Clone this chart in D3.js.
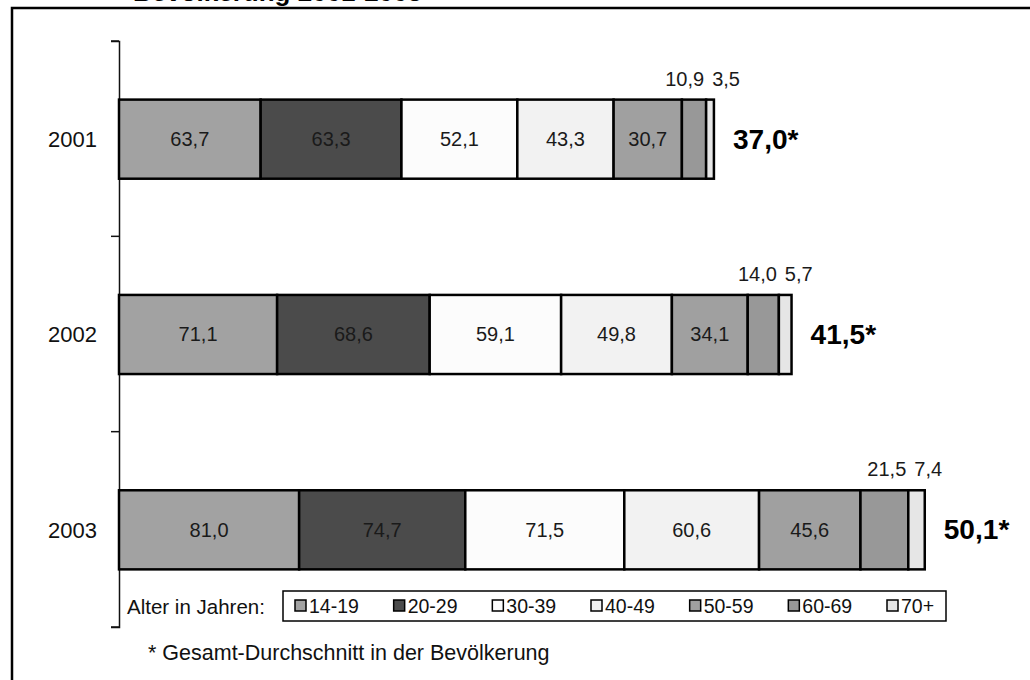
<!DOCTYPE html>
<html>
<head>
<meta charset="utf-8">
<script src="https://cdn.jsdelivr.net/npm/d3@7/dist/d3.min.js"></script>
<style>
  html, body { margin: 0; padding: 0; background: #fff; }
  svg { display: block; font-family: "Liberation Sans", Arial, sans-serif; }
</style>
</head>
<body>
<svg id="chart" width="1030" height="680"></svg>
<script>
// Survey shares (%) by age group, per year
const years = ["2001", "2002", "2003"];
const ageGroups = ["14-19", "20-29", "30-39", "40-49", "50-59", "60-69", "70+"];
const values2001 = [63.7, 63.3, 52.1, 43.3, 30.7, 10.9, 3.5];
const values2002 = [71.1, 68.6, 59.1, 49.8, 34.1, 14.0, 5.7];
const values2003 = [81.0, 74.7, 71.5, 60.6, 45.6, 21.5, 7.4];
const totals = [37.0, 41.5, 50.1];
const groupFills = ["#a2a2a2", "#4b4b4b", "#fcfcfc", "#f2f2f2", "#a0a0a0", "#989898", "#e6e6e6"];
const titleText = "Bevölkerung 2001-2003";
const legendTitle = "Alter in Jahren:";
const footnote = "* Gesamt-Durchschnitt in der Bevölkerung";

const seriesByYear = [values2001, values2002, values2003];
const rows = years.map((y, i) => {
  let acc = 0;
  const segs = seriesByYear[i].map((v, j) => {
    const s = { group: ageGroups[j], index: j, value: v, x0: acc, x1: acc + v };
    acc += v;
    return s;
  });
  return { year: y, total: totals[i], segs, sum: acc };
});

const de = d3.formatLocale({ decimal: ",", thousands: ".", grouping: [3], currency: ["", " €"] });
const fmt = de.format(".1f");

const svg = d3.select("#chart");

function label(g, x, y, text, opts = {}) {
  return g.append("text")
    .attr("transform", `translate(${x},${y}) scale(${opts.sx || 1},1)`)
    .attr("text-anchor", opts.anchor || "middle")
    .attr("font-size", opts.size || 20)
    .attr("font-weight", opts.weight || "normal")
    .attr("fill", opts.fill || "#111")
    .text(text);
}

// Frame around the chart area
svg.append("rect")
  .attr("x", 12).attr("y", 8)
  .attr("width", 1100).attr("height", 800)
  .attr("fill", "none").attr("stroke", "#000").attr("stroke-width", 2.5);

// Title line (sits partly above the visible area)
label(svg, 133, 1, titleText, { anchor: "start", size: 26, weight: "bold", fill: "#000" });

const x = d3.scaleLinear().domain([0, 400]).range([119, 119 + 400 * 2.224]);
const y = d3.scaleBand().domain(years).range([41, 627]).paddingInner(0).paddingOuter(0);
const step = y.step();
const barTop = d => y(d) + step * 0.3;
const barH = step * 0.405;

// Category axis
const yAxis = d3.axisLeft(y).tickSize(8).tickFormat("").tickSizeOuter(8);
const axisG = svg.append("g").attr("transform", "translate(119,0)").call(yAxis);
axisG.select(".domain").attr("stroke", "#111").attr("stroke-width", 1.5);
axisG.selectAll(".tick").remove();
// tick marks on band edges
const edges = years.map(d => y(d)).concat([y(years[years.length - 1]) + step]);
axisG.selectAll("line.edge").data(edges).join("line")
  .attr("class", "edge")
  .attr("x1", -8).attr("x2", 0)
  .attr("y1", d => d).attr("y2", d => d)
  .attr("stroke", "#111").attr("stroke-width", 1.5);

// Year labels
rows.forEach(r => {
  label(svg, 97, barTop(r.year) + barH / 2 + 8, r.year, { anchor: "end", size: 22 });
});

// Stacked bars
const rowG = svg.selectAll("g.row").data(rows).join("g").attr("class", "row");
rowG.selectAll("rect").data(r => r.segs.map(s => ({ ...s, year: r.year }))).join("rect")
  .attr("x", s => x(s.x0))
  .attr("y", s => barTop(s.year))
  .attr("width", s => x(s.x1) - x(s.x0))
  .attr("height", barH)
  .attr("fill", s => groupFills[s.index])
  .attr("stroke", "#000")
  .attr("stroke-width", 2.5);

rows.forEach(r => {
  const g = svg.append("g");
  const cy = barTop(r.year) + barH / 2;
  r.segs.forEach(s => {
    if (s.index < 5) {
      label(g, (x(s.x0) + x(s.x1)) / 2, cy + 7, fmt(s.value), { size: 20, fill: "#1a1a1a" });
    }
  });
  // Small segments are labelled above the bar
  const s6 = r.segs[5], s7 = r.segs[6];
  const top = barTop(r.year) - 14;
  label(g, x(s7.x0) - 2, top, fmt(s6.value), { anchor: "end", size: 20, fill: "#1a1a1a" });
  label(g, x(s7.x0) + 6, top, fmt(s7.value), { anchor: "start", size: 20, fill: "#1a1a1a" });
  // Overall population average
  label(g, x(r.sum) + 19, cy + 9.5, fmt(r.total) + "*", { anchor: "start", size: 27, weight: "bold", fill: "#000", sx: 1.04 });
});

// Legend
label(svg, 127, 614, legendTitle, { anchor: "start", size: 20.5 });
svg.append("rect")
  .attr("x", 283).attr("y", 591).attr("width", 663).attr("height", 30)
  .attr("fill", "#fff").attr("stroke", "#000").attr("stroke-width", 1.5);
const lx = d3.scalePoint().domain(ageGroups).range([295, 887]);
const legG = svg.append("g");
ageGroups.forEach((a, i) => {
  legG.append("rect")
    .attr("x", lx(a)).attr("y", 600).attr("width", 11).attr("height", 11)
    .attr("fill", groupFills[i]).attr("stroke", "#000").attr("stroke-width", 1.5);
  label(legG, lx(a) + 14, 613, a, { anchor: "start", size: 19.5 });
});

// Footnote
label(svg, 148, 660, footnote, { anchor: "start", size: 21.5 });
</script>
</body>
</html>
